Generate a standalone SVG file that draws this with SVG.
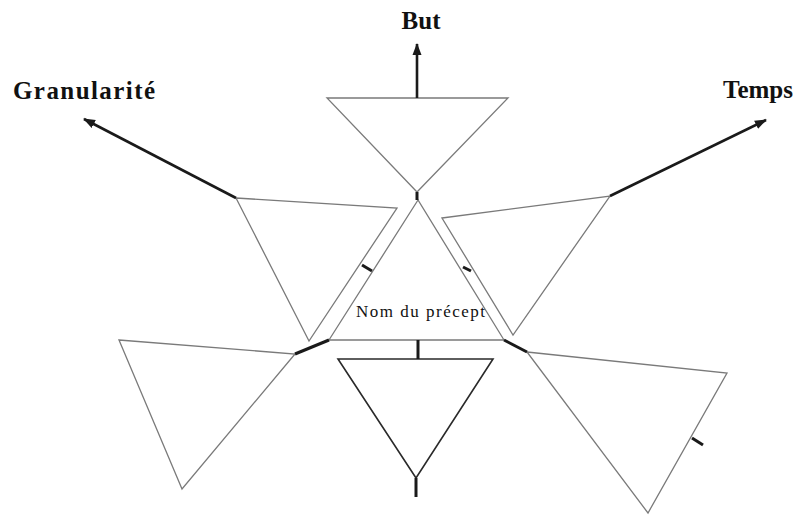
<svg xmlns="http://www.w3.org/2000/svg" width="804" height="515" viewBox="0 0 804 515">
<style>
.tri{fill:none;stroke:#7a7a7a;stroke-width:1.3;stroke-linejoin:miter}
.dark{fill:none;stroke:#2a2a2a;stroke-width:1.6}
.arrow{stroke:#1a1a1a;stroke-width:2.6;fill:none}
.tick{stroke:#1a1a1a;stroke-width:3;fill:none}
.lbl{font-family:"Liberation Serif","Times New Roman",serif;font-weight:bold;font-size:25px;fill:#111}
.name{font-family:"Liberation Serif","Times New Roman",serif;font-size:17px;fill:#111}
</style>
<defs>
<marker id="ah" markerUnits="userSpaceOnUse" markerWidth="12" markerHeight="10" refX="11" refY="5" orient="auto">
<path d="M0,0.5 L12,5 L0,9.5 z" fill="#1a1a1a"/>
</marker>
</defs>
<rect width="804" height="515" fill="#fff"/>
<g id="top">
<polygon class="tri" points="327,98 508,98 417,192"/>
</g>
<g id="center">
<polygon class="tri" points="418,200 329,340 504,340"/>
<text class="name" x="356" y="317" textLength="129" lengthAdjust="spacing">Nom du précept</text>
</g>
<g id="upper-left">
<polygon class="tri" points="236,198 397,208 309,341"/>
</g>
<g id="upper-right">
<polygon class="tri" points="442,218 610,196 513,335"/>
</g>
<g id="lower-left">
<polygon class="tri" points="119,340 295,354 182,489"/>
</g>
<g id="lower-center">
<polygon class="dark" points="338,359 493,359 416,478"/>
</g>
<g id="lower-right">
<polygon class="tri" points="527,352 727,373 648,513"/>
</g>
<g id="labels">
<text class="lbl" x="421" y="29" text-anchor="middle">But</text>
<text class="lbl" x="13" y="99" textLength="142" lengthAdjust="spacing">Granularité</text>
<text class="lbl" x="723" y="98">Temps</text>
</g>
<g id="connectors">
<line class="arrow" x1="417" y1="98" x2="417" y2="44" marker-end="url(#ah)"/>
<line class="arrow" x1="236" y1="198" x2="84" y2="119" marker-end="url(#ah)"/>
<line class="arrow" x1="610" y1="196" x2="766" y2="120" marker-end="url(#ah)"/>
<line class="tick" x1="417" y1="192" x2="417" y2="200"/>
<line class="tick" x1="362" y1="265" x2="372" y2="271"/>
<line class="tick" x1="463" y1="267" x2="471" y2="271"/>
<line class="tick" x1="418" y1="340" x2="418" y2="359"/>
<line class="tick" x1="416" y1="478" x2="416" y2="497"/>
<line class="tick" x1="295" y1="354" x2="329" y2="340"/>
<line class="tick" x1="504" y1="340" x2="527" y2="352"/>
<line class="tick" x1="692" y1="438" x2="703" y2="445"/>
</g>
</svg>
